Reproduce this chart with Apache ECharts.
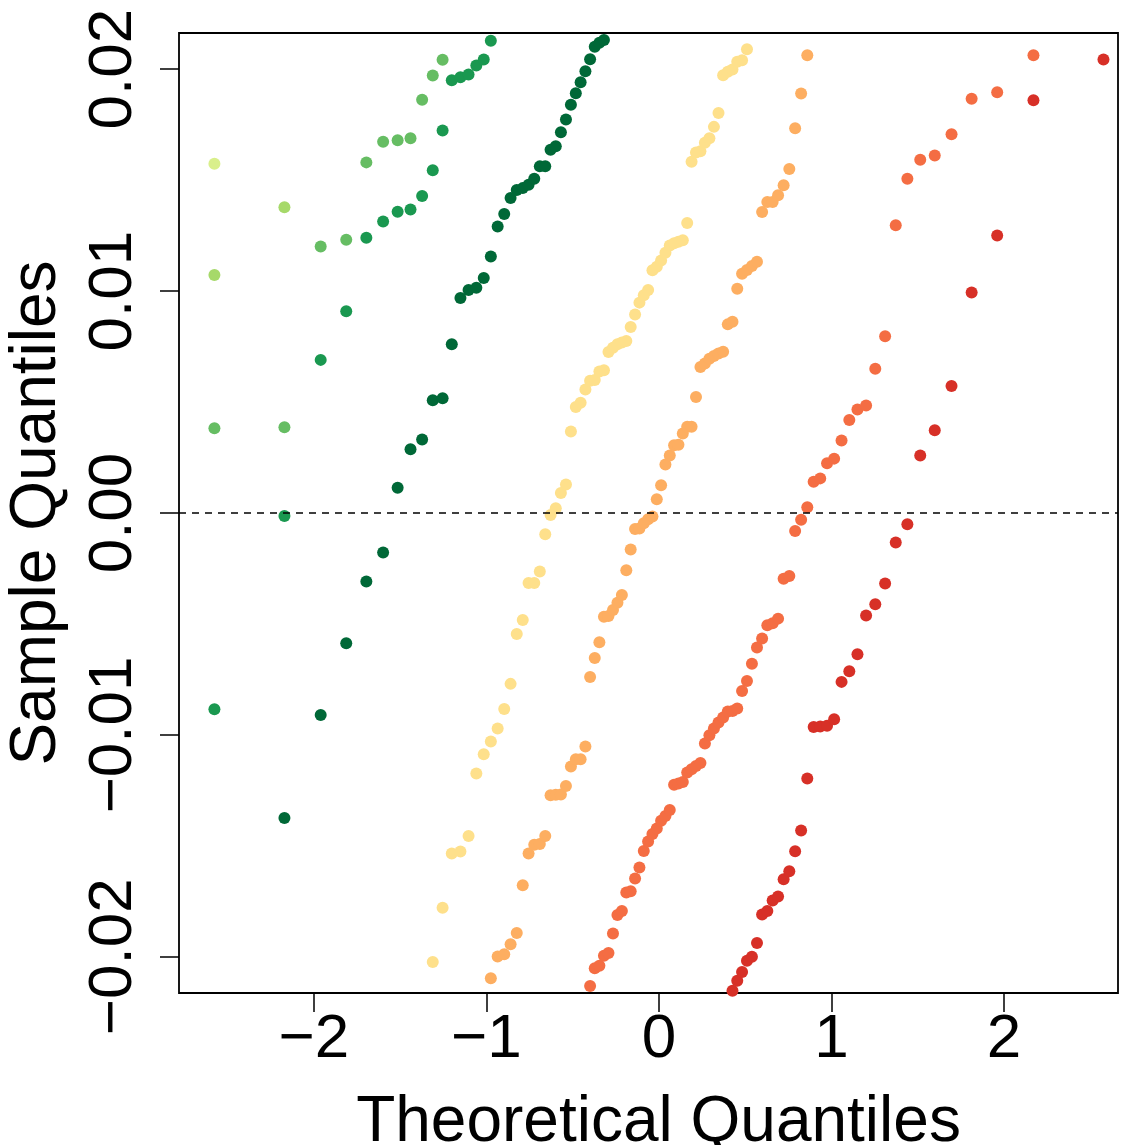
<!DOCTYPE html>
<html><head><meta charset="utf-8">
<script src="https://cdn.jsdelivr.net/npm/echarts@6/dist/echarts.min.js"></script>
<style>html,body{margin:0;padding:0;background:#fff}#c{width:1133px;height:1145px}</style>
</head><body><div id="c"></div>
<script>
// Theoretical normal quantiles for n = 100 (ppoints)
const Q = [-2.5758,-2.1701,-1.9600,-1.8119,-1.6954,-1.5982,-1.5141,-1.4395,-1.3722,-1.3106,
-1.2536,-1.2004,-1.1503,-1.1031,-1.0581,-1.0152,-0.9741,-0.9346,-0.8965,-0.8596,
-0.8239,-0.7892,-0.7554,-0.7225,-0.6903,-0.6588,-0.6280,-0.5978,-0.5681,-0.5388,
-0.5101,-0.4817,-0.4538,-0.4261,-0.3989,-0.3719,-0.3451,-0.3186,-0.2924,-0.2663,
-0.2404,-0.2147,-0.1891,-0.1637,-0.1383,-0.1130,-0.0878,-0.0627,-0.0376,-0.0125,
0.0125,0.0376,0.0627,0.0878,0.1130,0.1383,0.1637,0.1891,0.2147,0.2404,
0.2663,0.2924,0.3186,0.3451,0.3719,0.3989,0.4261,0.4538,0.4817,0.5101,
0.5388,0.5681,0.5978,0.6280,0.6588,0.6903,0.7225,0.7554,0.7892,0.8239,
0.8596,0.8965,0.9346,0.9741,1.0152,1.0581,1.1031,1.1503,1.2004,1.2536,
1.3106,1.3722,1.4395,1.5141,1.5982,1.6954,1.8119,1.9600,2.1701,2.5758];

const xTicks = [-2, -1, 0, 1, 2];
const yTicks = [-0.02, -0.01, 0, 0.01, 0.02];

// Sample quantiles per series (first visible rank, then sorted values)
const s1Start = 1;
const s1Y = [0.01574];
const s2Start = 1;
const s2Y = [0.01072, 0.01378];
const s3Start = 1;
const s3Y = [0.00382, 0.00386, 0.01201, 0.01231, 0.0158, 0.01673, 0.0168, 0.01689, 0.01862, 0.01972, 0.02042];
const s4Start = 1;
const s4Y = [-0.00884, -0.00014, 0.0069, 0.00909, 0.0124, 0.01314, 0.01358, 0.01368, 0.01428, 0.01545,
  0.01724, 0.0195, 0.01964, 0.01976, 0.02017, 0.02044, 0.02128];
const s5Start = 2;
const s5Y = [-0.01374, -0.0091, -0.00587, -0.00309, -0.00178, 0.00114, 0.00287, 0.00331, 0.00508, 0.00517,
  0.0076, 0.00969, 0.01005, 0.01015, 0.01059, 0.01156, 0.01291, 0.01347, 0.01419, 0.01455,
  0.01464, 0.01479, 0.01506, 0.01562, 0.01563, 0.01637, 0.01653, 0.01716, 0.01773, 0.0184,
  0.01891, 0.01941, 0.01991, 0.02045, 0.02101, 0.02119, 0.02131];
const s6Start = 10;
const s6Y = [-0.02023, -0.01779, -0.01534, -0.01525, -0.01456, -0.01174, -0.01087, -0.0103, -0.00971, -0.00883,
  -0.0077, -0.00545, -0.00482, -0.00315, -0.00315, -0.00264, -0.00096, -0.00009, 0.00021, 0.0009,
  0.00128, 0.00367, 0.00478, 0.00497, 0.00556, 0.00596, 0.00599, 0.00638, 0.00643, 0.00725,
  0.00745, 0.0076, 0.00768, 0.00775, 0.00838, 0.00895, 0.00948, 0.00981, 0.01005, 0.01094,
  0.0111, 0.01138, 0.01173, 0.01205, 0.01216, 0.01222, 0.01229, 0.01307, 0.01583, 0.01624,
  0.0163, 0.01668, 0.01689, 0.0174, 0.01802, 0.01973, 0.01988, 0.01999, 0.02033, 0.0204, 0.0209];
const s7Start = 17;
const s7Y = [-0.02097, -0.01998, -0.01988, -0.01943, -0.01893, -0.01677, -0.01534, -0.01495, -0.01492, -0.01455,
  -0.01272, -0.0127, -0.01268, -0.0123, -0.01142, -0.0111, -0.0111, -0.01052, -0.00739, -0.00653,
  -0.00582, -0.00467, -0.00464, -0.00437, -0.00404, -0.00369, -0.00258, -0.00164, -0.00072, -0.0007,
  -0.00046, -0.00028, -0.00016, 0.00062, 0.00125, 0.00219, 0.00259, 0.00305, 0.00308, 0.00358,
  0.00389, 0.00389, 0.00523, 0.00658, 0.00674, 0.00695, 0.00707, 0.00719, 0.00727, 0.0085,
  0.00862, 0.01011, 0.01078, 0.01095, 0.01113, 0.01132, 0.01356, 0.01401, 0.01401, 0.01432,
  0.01477, 0.0155, 0.01734, 0.0189, 0.02063];
const s8Start = 35;
const s8Y = [-0.02131, -0.02052, -0.0204, -0.01995, -0.01983, -0.01895, -0.01811, -0.01793, -0.0171, -0.01705,
  -0.01647, -0.01597, -0.01523, -0.0148, -0.01447, -0.01422, -0.01387, -0.01365, -0.01338, -0.01225,
  -0.01219, -0.01212, -0.01169, -0.01155, -0.0114, -0.01127, -0.01039, -0.01002, -0.00971, -0.00944,
  -0.00922, -0.00895, -0.00892, -0.00881, -0.00802, -0.00757, -0.00679, -0.00606, -0.00566, -0.00506,
  -0.00497, -0.00476, -0.00296, -0.00284, -0.00081, -0.0003, 0.00026, 0.00141, 0.00156, 0.00224,
  0.00245, 0.00327, 0.00419, 0.00466, 0.00484, 0.0065, 0.00796, 0.01297, 0.01506, 0.01592,
  0.01611, 0.01707, 0.01867, 0.01896, 0.02063];
const s9Start = 67;
const s9Y = [-0.02153, -0.02108, -0.02068, -0.02018, -0.02, -0.01938, -0.01809, -0.01794, -0.01746, -0.01728,
  -0.0165, -0.01614, -0.01524, -0.01431, -0.01196, -0.00964, -0.00962, -0.00959, -0.00929, -0.00761,
  -0.00713, -0.00636, -0.00462, -0.00411, -0.00318, -0.00133, -0.00051, 0.00259, 0.00373, 0.00572,
  0.00994, 0.01251, 0.0186, 0.02044];

const colors = ['#d9ef8b', '#a6d96a', '#66bd63', '#1a9850', '#006837', '#fee08b', '#fdae61', '#f46d43', '#d73027'];
const groups = [[s1Start, s1Y], [s2Start, s2Y], [s3Start, s3Y], [s4Start, s4Y], [s5Start, s5Y],
  [s6Start, s6Y], [s7Start, s7Y], [s8Start, s8Y], [s9Start, s9Y]];

const FONT = 'Liberation Sans, Arial, Helvetica, sans-serif';
const fmt = v => (v < 0 ? '\u2212' : '') + Math.abs(v);

const series = groups.map((g, i) => ({
  type: 'scatter',
  symbol: 'circle',
  symbolSize: 12,
  itemStyle: { color: colors[i], opacity: 1 },
  silent: true,
  clip: true,
  z: 2,
  data: g[1].map((v, k) => [Q[g[0] - 1 + k], v])
}));
series[0].markLine = {
  silent: true, symbol: 'none', label: { show: false },
  lineStyle: { color: '#000', type: [7, 6], width: 1.5 },
  data: [{ yAxis: 0 }]
};

const chart = echarts.init(document.getElementById('c'), null, { renderer: 'canvas' });
chart.setOption({
  animation: false,
  backgroundColor: '#fff',
  grid: { left: 179, top: 33, width: 939, height: 960, containLabel: false, outerBoundsMode: 'none',
    show: true, borderColor: '#000', borderWidth: 1.8, backgroundColor: 'transparent' },
  xAxis: {
    type: 'value', min: -2.781, max: 2.66,
    axisLine: { show: false, onZero: false },
    splitLine: { show: false },
    axisTick: { show: true, length: 19, lineStyle: { color: '#000', width: 1.5 }, customValues: xTicks },
    axisLabel: { show: true, customValues: xTicks, formatter: fmt, fontSize: 62, fontFamily: FONT, color: '#000', margin: 16 },
    name: 'Theoretical Quantiles', nameLocation: 'middle', nameGap: 98,
    nameTextStyle: { fontSize: 64, fontFamily: FONT, color: '#000', padding: [0, 0, 0, 20] }
  },
  yAxis: {
    type: 'value', min: -0.02163, max: 0.02163,
    axisLine: { show: false, onZero: false },
    splitLine: { show: false },
    axisTick: { show: true, length: 19, lineStyle: { color: '#000', width: 1.5 }, customValues: yTicks },
    axisLabel: { show: true, customValues: yTicks, rotate: 90, formatter: v => (v < 0 ? '\u2212' : '') + Math.abs(v).toFixed(2),
      fontSize: 62, fontFamily: FONT, color: '#000', margin: 34 },
    name: 'Sample Quantiles', nameLocation: 'middle', nameGap: 110, nameRotate: 90,
    nameTextStyle: { fontSize: 64, fontFamily: FONT, color: '#000' }
  },
  series: series
});
</script></body></html>
